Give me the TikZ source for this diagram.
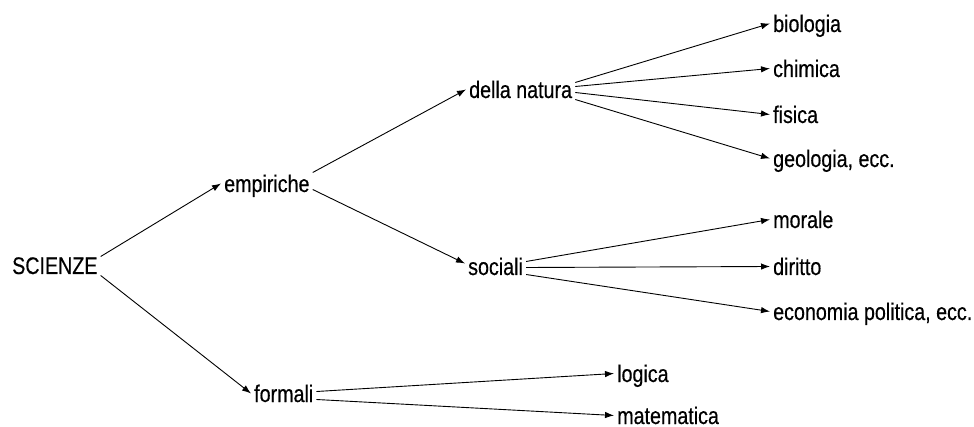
\documentclass[tikz,border=0pt]{standalone}
\usepackage{fontspec}
\setmainfont{Liberation Sans}[FakeStretch=0.82,FakeBold=0.4]
\usetikzlibrary{arrows.meta}
\begin{document}
\begin{tikzpicture}[x=1pt,y=1pt,
  lbl/.style={anchor=base west,inner xsep=3pt,inner ysep=0pt,text height=18pt,text depth=1pt,
    font=\fontsize{24}{28}\selectfont},
  arr/.style={line width=0.9pt,-{Latex[length=9pt,width=6.5pt]}}]
\useasboundingbox (0,0) rectangle (974,-427);
\node[lbl] (sci) at (9,-274) {SCIENZE};
\node[lbl] (emp) at (221,-192) {empiriche};
\node[lbl] (nat) at (466,-98) {della natura};
\node[lbl] (soc) at (465,-275) {sociali};
\node[lbl] (for) at (251,-402) {formali};
\node[lbl] (bio) at (770,-32) {biologia};
\node[lbl] (chi) at (770,-77) {chimica};
\node[lbl] (fis) at (770,-123) {fisica};
\node[lbl] (geo) at (770,-167) {geologia, ecc.};
\node[lbl] (mor) at (770,-228) {morale};
\node[lbl] (dir) at (770,-275) {diritto};
\node[lbl] (eco) at (770,-320) {economia politica, ecc.};
\node[lbl] (log) at (614,-382) {logica};
\node[lbl] (mat) at (614,-424) {matematica};
\draw[arr] ([yshift=9pt]sci.east) -- (emp.west);
\draw[arr] ([yshift=-10pt]sci.east) -- (for.west);
\draw[arr] ([yshift=11pt]emp.east) -- (nat.west);
\draw[arr] ([yshift=-6pt]emp.east) -- ([yshift=3pt]soc.west);
\draw[arr] ([yshift=7pt]nat.east) -- (bio.west);
\draw[arr] ([yshift=3pt]nat.east) -- (chi.west);
\draw[arr] ([yshift=-3pt]nat.east) -- (fis.west);
\draw[arr] ([yshift=-10pt]nat.east) -- (geo.west);
\draw[arr] ([yshift=5pt]soc.east) -- (mor.west);
\draw[arr] ([yshift=-1pt]soc.east) -- (dir.west);
\draw[arr] ([yshift=-8pt]soc.east) -- (eco.west);
\draw[arr] ([yshift=2pt]for.east) -- (log.west);
\draw[arr] ([yshift=-6pt]for.east) -- (mat.west);
\end{tikzpicture}
\end{document}
